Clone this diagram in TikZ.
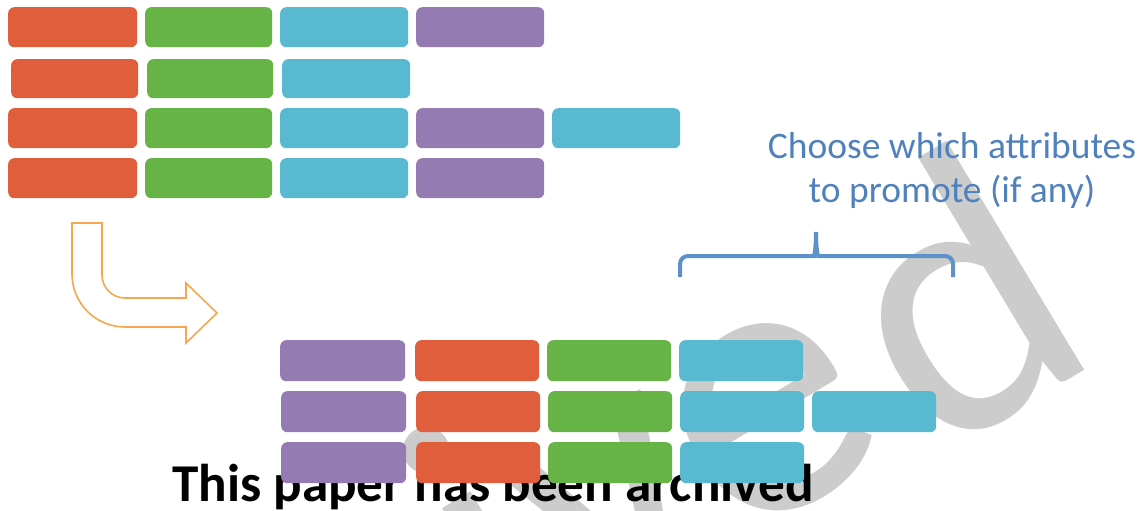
\documentclass[tikz,border=0pt]{standalone}
\usepackage{fontspec}
\setmainfont{Carlito}
\definecolor{cRed}{RGB}{224,94,59}
\definecolor{cGreen}{RGB}{102,179,70}
\definecolor{cCyan}{RGB}{88,185,209}
\definecolor{cPurple}{RGB}{148,123,178}
\definecolor{cOrange}{RGB}{247,166,80}
\definecolor{cBlue}{RGB}{79,129,189}
\definecolor{cBrace}{RGB}{92,146,200}
\definecolor{wmgray}{RGB}{204,204,204}
\tikzset{
  bx/.style={rounded corners=6pt, inner sep=0pt, anchor=north west, draw=none},
  bentarrow/.style={draw=cOrange, line width=1.6pt, line join=miter},
  bracest/.style={draw=cBrace, line width=4pt},
  bluetxt/.style={text=cBlue, inner sep=0pt, anchor=base, font=\fontsize{37.5}{45}\selectfont},
  wmark/.style={text=wmgray, inner sep=0pt, anchor=base east, rotate=31, font=\fontsize{385}{420}\selectfont},
}
\newcommand{\boxat}[6]{\node[bx, fill=#2, minimum width=#5pt, minimum height=#6pt] (#1) at (#3,#4) {};}
\begin{document}
\begin{tikzpicture}[x=1pt,y=-1pt]
\useasboundingbox (0,0) rectangle (1148,511);
\begin{scope}
\clip (0,0) rectangle (1148,511);
\node[wmark] (wmd) at (1108,356) {d};
\node[wmark] (wmrest) at ([xshift=-35pt, yshift=12pt] wmd.base west) {Archive};
\end{scope}
\node[inner sep=0pt, anchor=base west, font=\bfseries\fontsize{53.2}{60}\selectfont] (arch) at (172,501) {This paper has been archived};
% top rows
\boxat{t11}{cRed}{8}{7}{129}{40}
\boxat{t12}{cGreen}{145}{7}{127}{40}
\boxat{t13}{cCyan}{280}{7}{128}{40}
\boxat{t14}{cPurple}{416}{7}{128}{40}
\boxat{t21}{cRed}{11}{59}{127}{39}
\boxat{t22}{cGreen}{147}{59}{126}{39}
\boxat{t23}{cCyan}{282}{59}{128}{39}
\boxat{t31}{cRed}{8}{108}{129}{40}
\boxat{t32}{cGreen}{145}{108}{127}{40}
\boxat{t33}{cCyan}{280}{108}{128}{40}
\boxat{t34}{cPurple}{416}{108}{128}{40}
\boxat{t35}{cCyan}{552}{108}{128}{40}
\boxat{t41}{cRed}{8}{158}{129}{40}
\boxat{t42}{cGreen}{145}{158}{127}{40}
\boxat{t43}{cCyan}{280}{158}{128}{40}
\boxat{t44}{cPurple}{416}{158}{128}{40}
% bottom rows
\boxat{b11}{cPurple}{280}{340}{125}{41}
\boxat{b12}{cRed}{415}{340}{124}{41}
\boxat{b13}{cGreen}{547}{340}{124}{41}
\boxat{b14}{cCyan}{679}{340}{124}{41}
\boxat{b21}{cPurple}{281}{391}{125}{41}
\boxat{b22}{cRed}{416}{391}{124}{41}
\boxat{b23}{cGreen}{548}{391}{124}{41}
\boxat{b24}{cCyan}{680}{391}{124}{41}
\boxat{b25}{cCyan}{812}{391}{124}{41}
\boxat{b31}{cPurple}{281}{442}{125}{41}
\boxat{b32}{cRed}{416}{442}{124}{41}
\boxat{b33}{cGreen}{548}{442}{124}{41}
\boxat{b34}{cCyan}{680}{442}{124}{41}
% bent arrow
\draw[bentarrow] (72,223) -- (102,223) -- (102,275)
  .. controls (102,287.7) and (112.3,298) .. (125,298) -- (186,298) -- (186,283)
  -- (217,313) -- (186,343) -- (186,327) -- (125,327)
  .. controls (95.7,327) and (72,303.3) .. (72,274) -- cycle;
% brace
\draw[bracest, rounded corners=8pt] (680,277) -- (680,256) -- (806,256)
  [sharp corners] .. controls (814,256) and (816,250) .. (816,232);
\draw[bracest, rounded corners=8pt] (953,277) -- (953,256) -- (826,256)
  [sharp corners] .. controls (818,256) and (816,250) .. (816,232);
% label
\node[bluetxt] (lab1) at (952,158) {Choose which attributes};
\node[bluetxt] (lab2) at (952,202) {to promote (if any)};
\end{tikzpicture}
\end{document}
